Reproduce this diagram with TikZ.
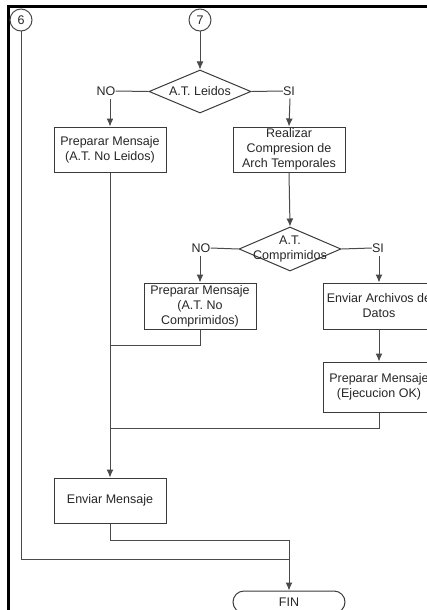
\documentclass[tikz,border=0pt]{standalone}
\usepackage{fontspec}
\setmainfont{Liberation Sans}
\usetikzlibrary{shapes.geometric,shapes.misc,arrows.meta}
\definecolor{linegray}{HTML}{4A4A4A}
\definecolor{boxgray}{HTML}{3A3A3A}
\definecolor{txtgray}{HTML}{262626}
\begin{document}
\begin{tikzpicture}[x=1pt,y=-1pt,
  every node/.style={font=\fontsize{12.5}{15}\selectfont, text=txtgray},
  proc/.style={draw=boxgray, line width=1pt, rectangle, minimum width=112pt, minimum height=45pt, inner sep=0pt, align=center},
  dec/.style={draw=boxgray, line width=1pt, diamond, minimum width=102pt, minimum height=43pt, inner sep=0pt},
  dectext/.style={label={[align=center, inner sep=0pt]center:#1}},
  conn/.style={draw=linegray, line width=1pt, circle, minimum size=22pt, inner sep=0pt},
  lbl/.style={inner sep=0pt},
  term/.style={draw=boxgray, line width=1pt, rounded rectangle, minimum width=112pt, minimum height=22pt, inner sep=0pt},
  flow/.style={draw=linegray, line width=1pt},
  arr/.style={flow, -{Latex[length=8pt,width=7pt]}}
]
\useasboundingbox (0,0) rectangle (427,610);
\clip (0,0) rectangle (427,610);
% frame
\draw[black, line width=2.5pt] (8.5,610) -- (8.5,6.5) -- (427,6.5);

% nodes
\node[conn] (c6) at (21,20) {6};
\node[conn] (c7) at (200,20) {7};
\node[dec, dectext={A.T. Leidos}] (d1) at (200,91.5) {};
\node[lbl] (no1) at (106,91) {NO};
\node[lbl] (si1) at (289,91) {SI};
\node[proc] (b1) at (110,149.5) {Preparar Mensaje\\(A.T. No Leidos)};
\node[proc] (b2) at (289,149.5) {Realizar\\Compresion de\\Arch Temporales};
\node[dec, minimum height=44pt, dectext={{A.T.\\Comprimidos}}] (d2) at (290,249) {};
\node[lbl] (no2) at (201,248) {NO};
\node[lbl] (si2) at (378,248) {SI};
\node[proc, minimum height=46pt] (b3) at (200,306) {Preparar Mensaje\\(A.T. No\\Comprimidos)};
\node[proc, minimum height=46pt] (b4) at (379,306) {Enviar Archivos de\\Datos};
\node[proc, minimum height=50pt] (b5) at (379,387) {Preparar Mensaje\\(Ejecucion OK)};
\node[proc] (b6) at (110,500.5) {Enviar Mensaje};
\node[term] (fin) at (289,602) {FIN};

\coordinate (j1) at (110,345);
\coordinate (j2) at (110,428);
\coordinate (j3) at (289,540);
\coordinate (j4) at (289,559);

% connectors
\draw[arr] (c7) -- (d1.north);
\draw[flow] (d1.west) -- (no1.east);
\draw[flow] (d1.east) -- (si1.west);
\draw[arr] (no1.south) ++(4,3) -- (b1.north);
\draw[arr] (si1.south) ++(1,3) -- (b2.north);
\draw[arr] (b2.south) -- (d2.north);
\draw[flow] (d2.west) -- (no2.east);
\draw[flow] (d2.east) -- (si2.west);
\draw[arr] (no2.south) ++(-1,3) -- (b3.north);
\draw[arr] (si2.south) ++(1,3) -- (b4.north);
\draw[arr] (b4.south) -- (b5.north);
\draw[arr] (b1.south) -- (b6.north);
\draw[flow] (b3.south) |- (j1);
\draw[flow] (b5.south) |- (j2);
\draw[flow] (b6.south) |- (j3);
\draw[arr] (j3) -- (fin.north);
\draw[flow] (c6.south) |- (j4);
\end{tikzpicture}
\end{document}
